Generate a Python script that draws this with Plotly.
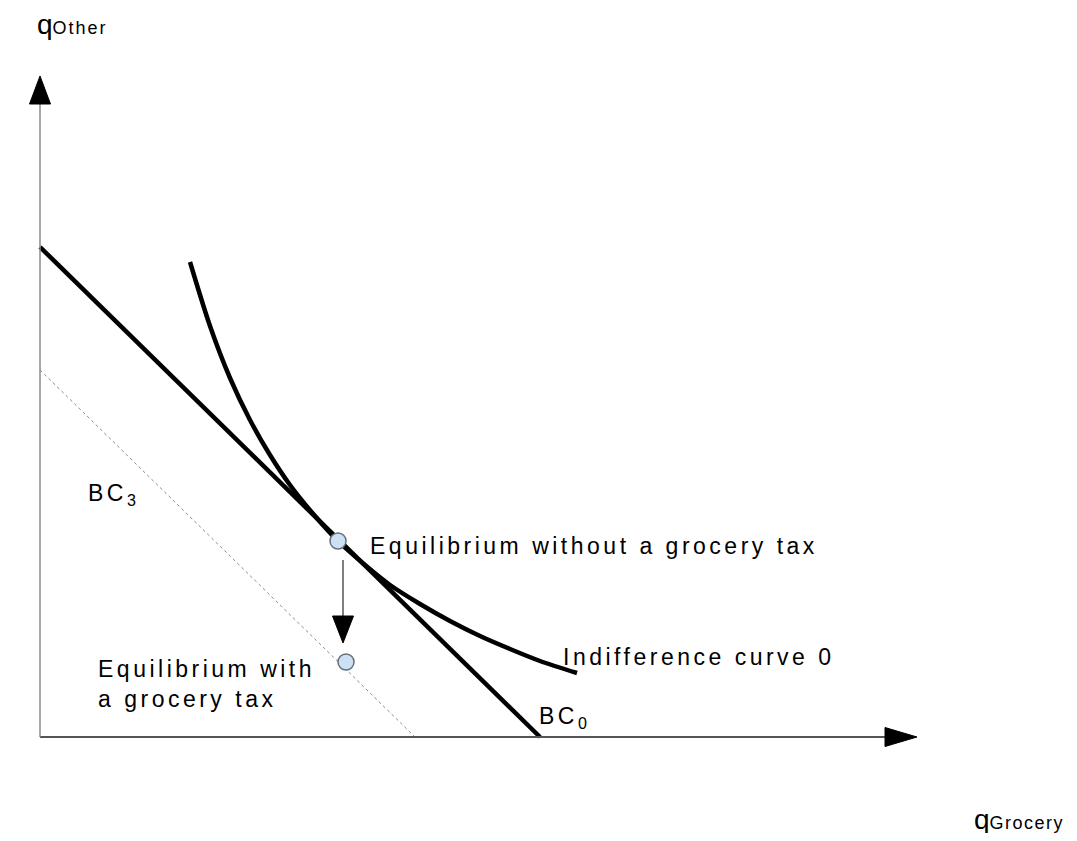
import plotly.graph_objects as go

# ---- data (diagram units) ----
bc0_x = [0.0, 5.0]
bc0_y = [4.90, 0.0]
bc3_x = [0.0, 3.75]
bc3_y = [3.67, 0.0]
ic_x = [1.50, 1.70, 1.90, 2.10, 2.30, 2.50, 2.75, 2.98, 3.25, 3.50, 3.80, 4.10, 4.40, 4.70, 5.00, 5.37]
ic_y = [4.75, 4.11, 3.59, 3.17, 2.82, 2.52, 2.21, 1.96, 1.72, 1.52, 1.33, 1.16, 1.01, 0.88, 0.76, 0.64]
eq_x = [2.98, 3.06]
eq_y = [1.96, 0.75]
shift_x = [3.03, 3.03]
shift_y = [1.77, 0.94]
axis_x_end = 8.77
axis_y_end = 6.61

FONT = "Liberation Sans, Arial, sans-serif"
LS = "letter-spacing:3.5px"
LS_SMALL = "letter-spacing:2px"
LS_SMALLER = "letter-spacing:1.5px"

fig = go.Figure()

fig.add_trace(go.Scatter(x=bc3_x, y=bc3_y, mode="lines",
                         line=dict(color="#8c8c8c", width=1, dash="3px,3px"),
                         hoverinfo="skip"))
fig.add_trace(go.Scatter(x=bc0_x, y=bc0_y, mode="lines",
                         line=dict(color="black", width=4.5), hoverinfo="skip"))
fig.add_trace(go.Scatter(x=ic_x, y=ic_y, mode="lines", line_shape="spline",
                         line=dict(color="black", width=4.5, smoothing=0.8), hoverinfo="skip"))
# shift arrow (line part)
fig.add_trace(go.Scatter(x=shift_x, y=[shift_y[0], shift_y[1] + 0.2], mode="lines",
                         line=dict(color="black", width=1), hoverinfo="skip"))
fig.add_trace(go.Scatter(x=eq_x, y=eq_y, mode="markers",
                         marker=dict(size=16, color="#cce2f4",
                                     line=dict(color="#66707c", width=1.5)),
                         hoverinfo="skip"))

shapes = []
# axes lines
shapes.append(dict(type="line", xref="x", yref="y", x0=0, y0=0, x1=axis_x_end - 0.3, y1=0,
                   line=dict(color="#555555", width=2)))
shapes.append(dict(type="line", xref="x", yref="y", x0=0, y0=0, x1=0, y1=axis_y_end - 0.28,
                   line=dict(color="#8a8a8a", width=1.5)))
# arrowheads
shapes.append(dict(type="path", xref="x", yref="y",
                   path=f"M {axis_x_end},0 L {axis_x_end-0.32},0.095 L {axis_x_end-0.32},-0.095 Z",
                   fillcolor="black", line=dict(color="black", width=1)))
shapes.append(dict(type="path", xref="x", yref="y",
                   path=f"M 0,{axis_y_end} L -0.105,{axis_y_end-0.28} L 0.105,{axis_y_end-0.28} Z",
                   fillcolor="black", line=dict(color="black", width=1)))
shapes.append(dict(type="path", xref="x", yref="y",
                   path=f"M {shift_x[1]},{shift_y[1]} L {shift_x[1]-0.105},{shift_y[1]+0.27} L {shift_x[1]+0.105},{shift_y[1]+0.27} Z",
                   fillcolor="black", line=dict(color="black", width=1)))

def ann(x, y, text, size=23, xanchor="left", yanchor="middle", ref="data"):
    xr, yr = ("x", "y") if ref == "data" else ("paper", "paper")
    return dict(x=x, y=y, xref=xr, yref=yr, text=text, showarrow=False,
                xanchor=xanchor, yanchor=yanchor, align="left",
                font=dict(family=FONT, size=size, color="black"))

annotations = [
    ann(0.0147, 1.018, f"q<span style='font-size:18px;{LS_SMALL}'>Other</span>", size=28, ref="paper"),
    ann(0.933, -0.0875, f"q<span style='font-size:18px;{LS_SMALLER}'>Grocery</span>", size=28, ref="paper"),
    ann(0.46, 2.43, f"<span style='{LS}'>BC<sub>3</sub></span>"),
    ann(3.28, 1.91, f"<span style='{LS}'>Equilibrium without a grocery tax</span>"),
    ann(5.21, 0.80, f"<span style='{LS}'>Indifference curve 0</span>"),
    ann(4.97, 0.20, f"<span style='{LS}'>BC<sub>0</sub></span>"),
    ann(0.56, 0.53, f"<span style='{LS}'>Equilibrium with</span><br><span style='{LS}'>a grocery tax</span>"),
]

# page body has an 8px margin: shrink figure and margins accordingly
fig.update_layout(
    width=1061, height=825,
    margin=dict(l=12, r=29, t=29, b=76),
    paper_bgcolor="white", plot_bgcolor="white",
    showlegend=False,
    xaxis=dict(range=[-0.2, 10], visible=False, fixedrange=True),
    yaxis=dict(range=[-0.2, 7], visible=False, fixedrange=True),
    shapes=shapes,
    annotations=annotations,
)

fig.write_html("out.html")
